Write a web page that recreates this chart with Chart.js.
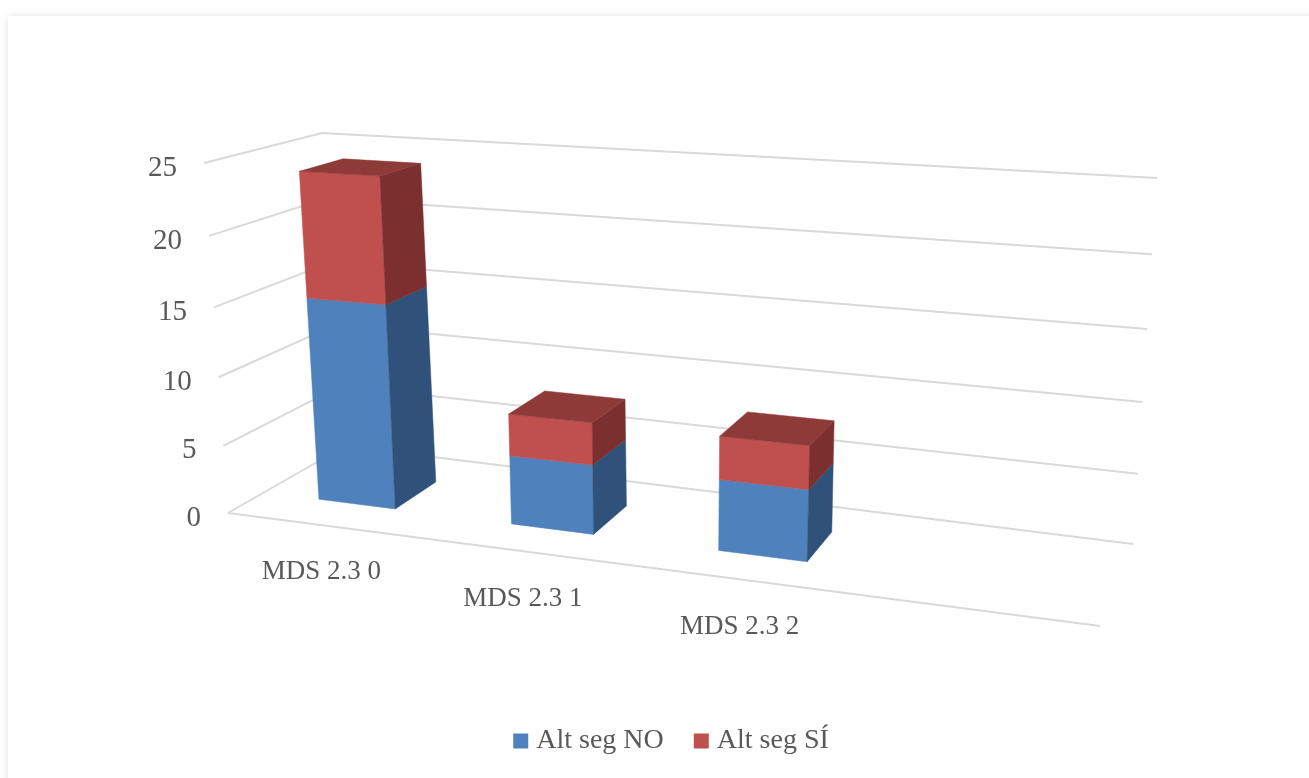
<!DOCTYPE html>
<html>
<head>
<meta charset="utf-8">
<title>MDS 2.3</title>
<script src="https://cdn.jsdelivr.net/npm/chart.js@4"></script>
<style>
    html, body { margin: 0; height: 100%; background: #fff; overflow: hidden; }
    #panel { position: absolute; left: 8px; top: 16px; width: 1400px; height: 900px; box-shadow: 0 0 9px rgba(0, 0, 0, 0.12); background: #fff; }
    #wrap { position: absolute; left: 0; top: 0; width: 1309px; height: 778px; filter: blur(0.7px); }
</style>
</head>
<body>
<div id="panel"></div>
<div id="wrap"><canvas id="chart" width="1309" height="778"></canvas></div>
<script>
// --- DATA ---
const categories = ['MDS 2.3 0', 'MDS 2.3 1', 'MDS 2.3 2', ''];
const altSegNo = [15, 5, 5];
const altSegSi = [9, 3, 3];

const THEME = {
    grid: '#d9d9d9',
    text: '#595959',
    font: "'Liberation Serif', serif",
    blue: { front: '#4f81bd', side: '#30527a' },
    red: { front: '#c0504d', side: '#7b302f', top: '#8e3a38' }
};

// corners of the 3D box on screen: bottom/top, front/back, left/right
const BOX = {
    bfl: [228, 513], bfr: [1100, 626], bbl: [345, 446], bbr: [1133, 544],
    tfl: [204, 163], tfr: [1127, 216], tbl: [322, 133], tbr: [1157, 178]
};
// perspective: the right side and the top are nearer to the viewer
const RIGHT_WEIGHT = 0.86;
const TOP_WEIGHT = 0.95;
const BAR_DEPTH = [0.31, 0.70];

function lerp(a, b, t) {
    return [a[0] + (b[0] - a[0]) * t, a[1] + (b[1] - a[1]) * t];
}

function weighted(t, weight) {
    return t * weight / ((1 - t) + t * weight);
}

// u: left to right, v: bottom to top, z: front to back (all 0..1)
function project(u, v, z) {
    const h = weighted(v, TOP_WEIGHT);
    const l = lerp(lerp(BOX.bfl, BOX.bbl, z), lerp(BOX.tfl, BOX.tbl, z), h);
    const r = lerp(lerp(BOX.bfr, BOX.bbr, z), lerp(BOX.tfr, BOX.tbr, z), h);
    return lerp(l, r, weighted(u, RIGHT_WEIGHT));
}

function polygon(ctx, points, color) {
    ctx.beginPath();
    points.forEach((p, i) => i ? ctx.lineTo(p[0], p[1]) : ctx.moveTo(p[0], p[1]));
    ctx.closePath();
    ctx.fillStyle = color;
    ctx.fill();
    ctx.strokeStyle = color;
    ctx.lineWidth = 0.5;
    ctx.stroke();
}

function line(ctx, a, b) {
    ctx.beginPath();
    ctx.moveTo(a[0], a[1]);
    ctx.lineTo(b[0], b[1]);
    ctx.stroke();
}

const bars3d = {
    id: 'bars3d',
    beforeDatasetsDraw(chart) {
        const ctx = chart.ctx;
        const area = chart.chartArea;
        const yScale = chart.scales.y;
        const xScale = chart.scales.x;
        const toU = px => (px - area.left) / area.width;
        const toV = py => (area.bottom - py) / area.height;

        // walls and floor
        ctx.save();
        ctx.strokeStyle = THEME.grid;
        ctx.lineWidth = 2;
        yScale.ticks.forEach(tick => {
            const v = toV(yScale.getPixelForValue(tick.value));
            line(ctx, project(0, v, 0), project(0, v, 1));
            line(ctx, project(0, v, 1), project(1, v, 1));
        });
        line(ctx, project(0, 0, 0), project(1, 0, 0));

        // tick labels
        ctx.fillStyle = THEME.text;
        ctx.textBaseline = 'middle';
        ctx.textAlign = 'right';
        ctx.font = '29px ' + THEME.font;
        yScale.ticks.forEach(tick => {
            const p = project(0, toV(yScale.getPixelForValue(tick.value)), 0);
            ctx.fillText(tick.label, p[0] - 27, p[1] + 5);
        });
        ctx.textAlign = 'center';
        ctx.font = '27px ' + THEME.font;
        categories.forEach((name, i) => {
            const p = project(toU(xScale.getPixelForValue(i)), 0, 0);
            ctx.fillText(name, p[0] - 2, p[1] + 47);
        });

        // bars, lower segment first
        const colors = [THEME.blue, THEME.red];
        chart.data.datasets.forEach((ds, d) => {
            chart.getDatasetMeta(d).data.forEach(bar => {
                const u0 = toU(bar.x - bar.width / 2);
                const u1 = toU(bar.x + bar.width / 2);
                const v0 = toV(bar.base);
                const v1 = toV(bar.y);
                const [z0, z1] = BAR_DEPTH;
                const c = colors[d];
                polygon(ctx, [project(u0, v0, z0), project(u1, v0, z0), project(u1, v1, z0), project(u0, v1, z0)], c.front);
                polygon(ctx, [project(u1, v0, z0), project(u1, v0, z1), project(u1, v1, z1), project(u1, v1, z0)], c.side);
                if (c.top) {
                    polygon(ctx, [project(u0, v1, z0), project(u1, v1, z0), project(u1, v1, z1), project(u0, v1, z1)], c.top);
                }
            });
        });
        ctx.restore();
        return false; // flat bars are replaced by the boxes above
    }
};

new Chart(document.getElementById('chart'), {
    type: 'bar',
    data: {
        labels: categories,
        datasets: [
            { label: 'Alt seg NO', data: altSegNo, backgroundColor: THEME.blue.front, borderColor: THEME.blue.front, borderWidth: 12 },
            { label: 'Alt seg SÍ', data: altSegSi, backgroundColor: THEME.red.front, borderColor: THEME.red.front, borderWidth: 12 }
        ]
    },
    options: {
        responsive: false,
        animation: false,
        categoryPercentage: 1,
        barPercentage: 0.405,
        layout: { padding: { left: 39, top: 20, right: 0, bottom: 13 } },
        scales: {
            x: { stacked: true, display: false },
            y: { stacked: true, display: false, min: 0, max: 25, ticks: { stepSize: 5 } }
        },
        plugins: {
            tooltip: { enabled: false },
            legend: {
                position: 'bottom',
                labels: {
                    color: THEME.text,
                    font: { size: 28, family: THEME.font },
                    boxWidth: 3,
                    boxHeight: 3,
                    padding: 36
                }
            }
        }
    },
    plugins: [bars3d]
});
</script>
</body>
</html>
